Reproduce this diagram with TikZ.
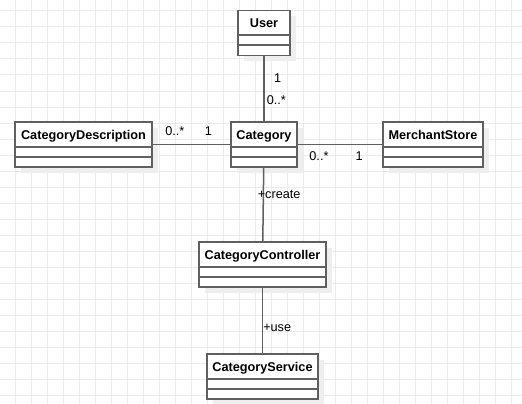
\documentclass[tikz,border=0pt]{standalone}
\usepackage{fontspec}
\setmainfont{Liberation Sans}
\usetikzlibrary{shadows}
\definecolor{umlline}{RGB}{96,96,96}
\definecolor{gridgray}{RGB}{235,235,235}
\definecolor{shadowgray}{RGB}{238,238,238}
\tikzset{
  umlclass/.style={draw=umlline, line width=1.8pt, fill=white, minimum height=45pt, inner xsep=0pt, inner ysep=0pt, text height=17.3pt, text depth=27.7pt, font=\fontsize{12.7}{15}\selectfont\bfseries, drop shadow={fill=shadowgray, opacity=1, shadow xshift=6pt, shadow yshift=-6pt}},
  compart/.style={draw=umlline, line width=1.8pt},
  assoc/.style={draw=umlline, line width=1.5pt},
  mult/.style={inner sep=0pt, font=\fontsize{12.7}{15}\selectfont},
  bggrid/.style={draw=gridgray, line width=1pt}
}

\begin{document}
\begin{tikzpicture}[x=1pt,y=-1pt]
  \useasboundingbox (0,0) rectangle (522,404);
  \fill[white] (0,0) rectangle (522,404);
  % background grid
  \foreach \gx in {-0.5,15.5,...,521.5} \draw[bggrid] (\gx,0) -- (\gx,404);
  \foreach \gy in {-5,11,...,404} \draw[bggrid] (0,\gy) -- (522,\gy);

  % classes
  \node[umlclass, minimum width=52pt] (user) at (264,33) {User};
  \node[umlclass, minimum width=66pt] (category) at (264,144.5) {Category};
  \node[umlclass, minimum width=137pt] (catdesc) at (83.5,144.5) {CategoryDescription};
  \node[umlclass, minimum width=100pt] (merchant) at (433,144.5) {MerchantStore};
  \node[umlclass, minimum width=127pt] (controller) at (262.5,264.5) {CategoryController};
  \node[umlclass, minimum width=111pt] (service) at (262.5,376.5) {CategoryService};

  \foreach \c in {user,category,catdesc,merchant,controller,service}{
    \draw[compart] ([yshift=-25.5pt]\c.north west) -- ([yshift=-25.5pt]\c.north east);
    \draw[compart] ([yshift=-35.5pt]\c.north west) -- ([yshift=-35.5pt]\c.north east);
  }

  % associations
  \draw[assoc] (user) -- node[mult, pos=0.33, anchor=west, xshift=9.3pt] (userOne) {1}
    node[mult, pos=0.67, anchor=west, xshift=2pt] (userMany) {0..*} (category);
  \draw[assoc] (catdesc) -- node[mult, pos=0.285, yshift=13.5pt] (descMany) {0..*}
    node[mult, pos=0.718, yshift=13.5pt] (descOne) {1} (category);
  \draw[assoc] (category) -- node[mult, pos=0.25, yshift=-11.5pt] (storeMany) {0..*}
    node[mult, pos=0.727, yshift=-11.5pt] (storeOne) {1} (merchant);
  \draw[assoc] (category) -- node[mult, pos=0.36, anchor=west, xshift=-6.3pt] (createLbl) {+create} (controller);
  \draw[assoc] (controller) -- node[mult, pos=0.616, anchor=west] (useLbl) {+use} (service);
\end{tikzpicture}
\end{document}
